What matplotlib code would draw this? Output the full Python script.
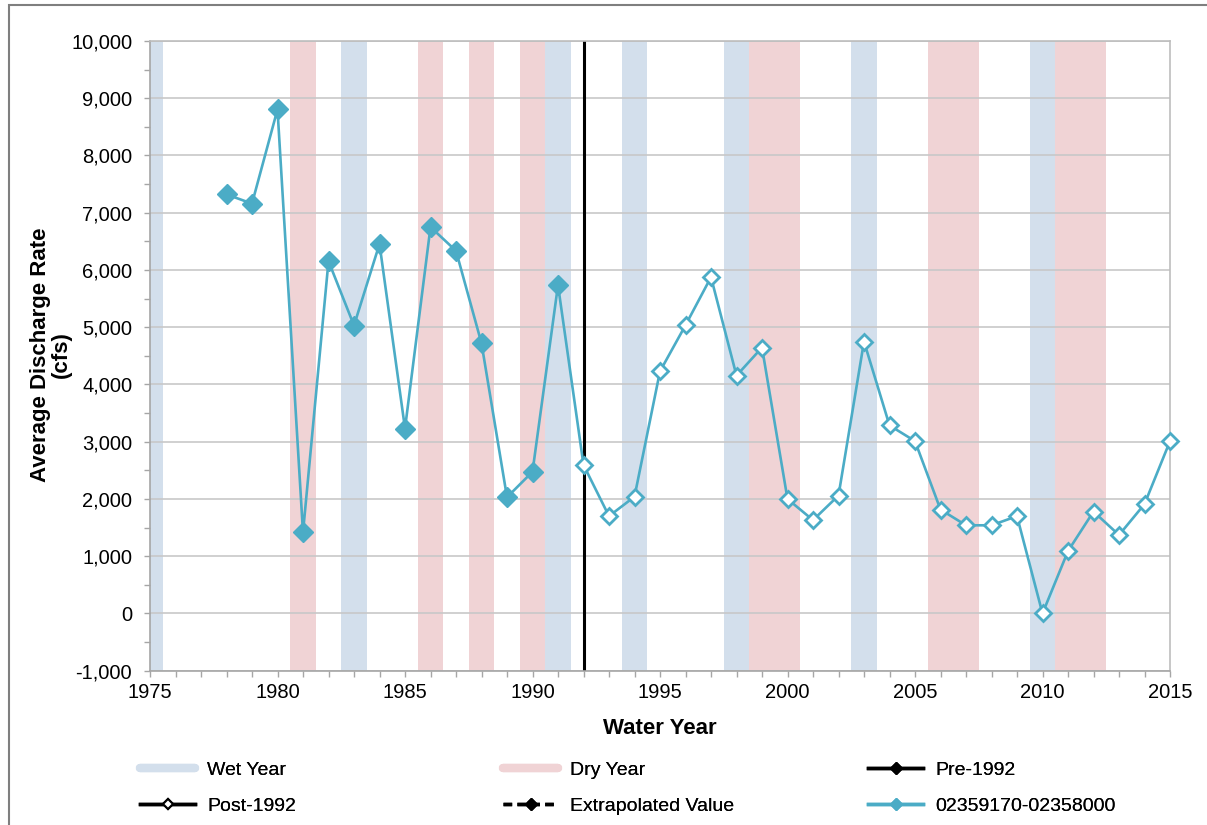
import matplotlib.pyplot as plt
from matplotlib.lines import Line2D
from matplotlib.patches import Rectangle
from matplotlib.ticker import MultipleLocator, FuncFormatter

plt.rcParams['font.family'] = ['Liberation Sans', 'DejaVu Sans']

# data
years_pre = list(range(1978, 1992))
flow_pre = [7320, 7160, 8805, 1415, 6155, 5030, 6455, 3230, 6750, 6335, 4720, 2030, 2475, 5735]
years_post = list(range(1992, 2016))
flow_post = [2595, 1700, 2040, 4230, 5035, 5875, 4155, 4645, 2000, 1630, 2060, 4750,
             3285, 3010, 1815, 1540, 1540, 1700, 0, 1090, 1780, 1370, 1910, 3010]

wet_years = [1975, 1983, 1991, 1994, 1998, 2003, 2010]
dry_years = [1981, 1986, 1988, 1990, 1999, 2000, 2006, 2007, 2011, 2012]
split_year = 1992

series_name = '02359170-02358000'
aqua = '#4BACC6'
wet_color = '#D3DFEC'
dry_color = '#F0D3D5'

fig = plt.figure(figsize=(12.07, 8.25), dpi=100)
ax = fig.add_axes([150 / 1207, 1 - 670.7 / 825, 1020 / 1207, 629.7 / 825])

# wet / dry year bands
for yr in wet_years:
    ax.axvspan(yr - 0.5, yr + 0.5, color=wet_color, lw=0, zorder=0.1)
for yr in dry_years:
    ax.axvspan(yr - 0.5, yr + 0.5, color=dry_color, lw=0, zorder=0.1)

ax.axvline(split_year, color='black', lw=2.2, zorder=2.5)

# the series, one continuous line
all_years = years_pre + years_post
all_flow = flow_pre + flow_post
ax.plot(all_years, all_flow, color=aqua, lw=1.9, zorder=3, clip_on=False)
ax.plot(years_pre, flow_pre, ls='none', marker='D', ms=10, color=aqua, zorder=4, clip_on=False)
ax.plot(years_post, flow_post, ls='none', marker='D', ms=8.5, mfc='white',
        mec=aqua, mew=2, zorder=4, clip_on=False)

ax.set_xlim(1975, 2015)
ax.set_ylim(-1000, 10000)
ax.xaxis.set_major_locator(MultipleLocator(5))
ax.xaxis.set_minor_locator(MultipleLocator(1))
ax.yaxis.set_major_locator(MultipleLocator(1000))
ax.yaxis.set_minor_locator(MultipleLocator(500))
ax.yaxis.set_major_formatter(FuncFormatter(lambda v, p: f'{int(v):,}'))

ax.set_axisbelow(True)
ax.grid(axis='y', which='major', color='#C8C8C8', lw=1.2)
for s in ax.spines.values():
    s.set_color('#BDBDBD')
    s.set_linewidth(1.2)
ax.spines['left'].set_color('#A6A6A6')
ax.spines['bottom'].set_color('#A6A6A6')

ax.tick_params(which='both', direction='out', length=4.3, color='#A6A6A6', width=1)
ax.tick_params(axis='y', which='major', labelsize=14.5, pad=8.5)
ax.tick_params(axis='x', which='major', labelsize=14.5, pad=4.5)
ax.tick_params(which='both', top=False, right=False)

ax.set_ylabel('Average Discharge Rate\n(cfs)', fontsize=16, fontweight='bold', linespacing=1.0)
ax.yaxis.set_label_coords(-0.0765, 0.502)
ax.set_xlabel('Water Year', fontsize=16, fontweight='bold', va='top')
ax.xaxis.set_label_coords(0.5, -0.0746)

# legend, three columns of two rows
h_wet = Line2D([], [], color=wet_color, lw=6, solid_capstyle='round')
h_dry = Line2D([], [], color=dry_color, lw=6, solid_capstyle='round')
h_pre = Line2D([], [], color='black', lw=2.5, marker='D', ms=6)
h_post = Line2D([], [], color='black', lw=2.5, marker='D', ms=5.5, mfc='white', mew=1.5)
h_ext = Line2D([], [], color='black', lw=2.5, ls=(0, (2.5, 1.5)), marker='D', ms=6)
h_ser = Line2D([], [], color=aqua, lw=2.5, marker='D', ms=6)

columns = [([h_wet, h_post], ['Wet Year', 'Post-1992'], 140),
           ([h_dry, h_ext], ['Dry Year', 'Extrapolated Value'], 503),
           ([h_pre, h_ser], ['Pre-1992', series_name], 868)]
for handles, labels, x0 in columns:
    leg = fig.legend(handles, labels, loc='center left',
                     bbox_to_anchor=(x0 / 1207, 1 - 788 / 825),
                     bbox_transform=fig.transFigure, frameon=False,
                     fontsize=14, handlelength=2.85, handletextpad=0.6,
                     borderpad=0, borderaxespad=0, labelspacing=0.95)
    fig.add_artist(leg)

# outer chart border
fig.add_artist(Rectangle((9 / 1207, -0.05), 1.0, 1.05 - 5 / 825, transform=fig.transFigure,
                         fill=False, edgecolor='#7F7F7F', lw=1.5))

fig.savefig('out.png', dpi=100)
